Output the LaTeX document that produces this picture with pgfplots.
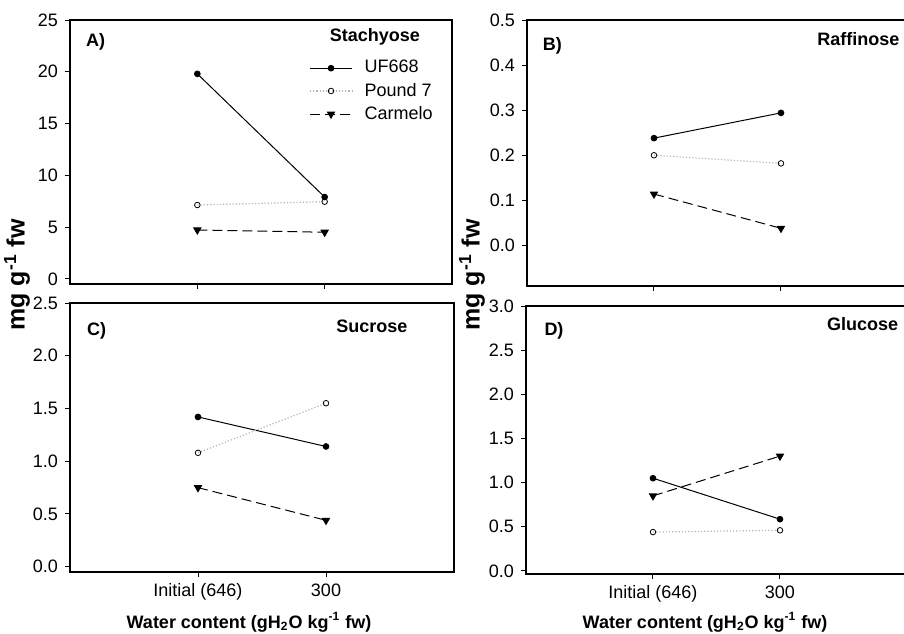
\documentclass[border=0pt]{standalone}
\usepackage{pgfplots}
\pgfplotsset{compat=1.18}
\usepackage{fontspec}
\setmainfont{Liberation Sans}
\definecolor{dotgray}{HTML}{B4B4B4}

\pgfplotsset{
  panel/.style={
    scale only axis, anchor=south west,
    xmin=-1, xmax=2, xtick={0,1},
    tick pos=left, tick align=outside,
    major tick length=2.5pt,
    axis line style={line width=0.6pt},
    every tick/.style={black, line width=0.5pt},
    tick label style={font=\fontsize{9}{10}\selectfont},
    /pgf/number format/assume math mode=true,
    clip=false,
  },
  uf/.style={black, line width=0.5pt, mark=*, mark size=1.4pt, mark options={solid, fill=black}},
  pd/.style={dotgray, densely dotted, line width=0.6pt, mark=o, mark size=1.4pt, mark options={solid, draw=black, fill=white, line width=0.4pt}},
  cm/.style={black, dashed, dash pattern=on 5pt off 2.5pt, line width=0.5pt, mark=triangle*, mark size=2pt, mark options={solid, fill=black, rotate=180}},
}
\tikzset{lab/.style={font=\bfseries\fontsize{9}{10}\selectfont}}

\begin{document}
\begin{tikzpicture}

% A) Stachyose
\begin{axis}[panel, at={(35pt,-142pt)}, width=191pt, height=132pt,
  ymin=-0.5, ymax=25, ytick={0,5,10,15,20,25}, xticklabels={},
  legend style={draw=none, fill=none, at={(0.61,0.875)}, anchor=north west,
    font=\fontsize{9}{10}\selectfont, row sep=0.5pt,
    nodes={inner sep=1.5pt},
    /tikz/every odd column/.append style={column sep=4.5pt}},
  legend cell align=left,
  legend image code/.code={\draw[mark repeat=2, mark phase=2, #1] plot coordinates {(0pt,0pt) (10.5pt,0pt) (21pt,0pt)};},
]
\addplot[uf] coordinates {(0,19.8) (1,7.9)};
\addplot[pd] coordinates {(0,7.13) (1,7.45)};
\addplot[cm] coordinates {(0,4.72) (1,4.5)};
\legend{UF668, Pound 7, Carmelo}
\node[lab, anchor=west] at (rel axis cs:0.024,0.917) {A)};
\node[lab] at (rel axis cs:0.798,0.9375) {Stachyose};
\end{axis}

% B) Raffinose
\begin{axis}[panel, at={(263.5pt,-143pt)}, width=200pt, height=133pt, xmax=2.15,
  ymin=-0.09, ymax=0.5, ytick={0,0.1,0.2,0.3,0.4,0.5}, xticklabels={},
  yticklabel style={/pgf/number format/.cd, fixed, fixed zerofill, precision=1},
]
\addplot[uf] coordinates {(0,0.238) (1,0.294)};
\addplot[pd] coordinates {(0,0.200) (1,0.182)};
\addplot[cm] coordinates {(0,0.114) (1,0.038)};
\node[lab, anchor=west] at (axis cs:-0.93,0.4423) {B)};
\node[lab] at (axis cs:1.61,0.457) {Raffinose};
\end{axis}

% C) Sucrose
\begin{axis}[panel, at={(35pt,-286pt)}, width=192pt, height=134.5pt,
  ymin=-0.05, ymax=2.5, ytick={0,0.5,1,1.5,2,2.5},
  yticklabel style={/pgf/number format/.cd, fixed, fixed zerofill, precision=1},
  xticklabels={Initial (646), 300},
  xticklabel style={text height=6.5pt, text depth=2pt, yshift=0.5pt},
]
\addplot[uf] coordinates {(0,1.42) (1,1.14)};
\addplot[pd] coordinates {(0,1.08) (1,1.55)};
\addplot[cm] coordinates {(0,0.75) (1,0.44)};
\node[lab, anchor=west] at (rel axis cs:0.026,0.896) {C)};
\node[lab] at (rel axis cs:0.786,0.913) {Sucrose};
\end{axis}

% D) Glucose
\begin{axis}[panel, at={(263pt,-287pt)}, width=200pt, height=134pt, xmax=2.15,
  ymin=-0.035, ymax=3.0, ytick={0,0.5,1,1.5,2,2.5,3},
  yticklabel style={/pgf/number format/.cd, fixed, fixed zerofill, precision=1},
  xticklabels={Initial (646), 300},
  xticklabel style={text height=6.5pt, text depth=2pt, yshift=0.5pt},
]
\addplot[uf] coordinates {(0,1.05) (1,0.586)};
\addplot[pd] coordinates {(0,0.44) (1,0.46)};
\addplot[cm] coordinates {(0,0.85) (1,1.30)};
\node[lab, anchor=west] at (axis cs:-0.91,2.72) {D)};
\node[lab] at (axis cs:1.65,2.80) {Glucose};
\end{axis}

% shared labels
\node[rotate=90, font=\bfseries\fontsize{12.5}{14}\selectfont] at (8.5pt,-137.5pt) {mg g\textsuperscript{-1} fw};
\node[rotate=90, font=\bfseries\fontsize{12.5}{14}\selectfont] at (236pt,-137.5pt) {mg g\textsuperscript{-1} fw};
\node[font=\bfseries\fontsize{9}{10}\selectfont] at (124.5pt,-311pt) {Water content (gH\textsubscript{2}O kg\textsuperscript{-1} fw)};
\node[font=\bfseries\fontsize{9}{10}\selectfont] at (352.5pt,-311pt) {Water content (gH\textsubscript{2}O kg\textsuperscript{-1} fw)};

\pgfresetboundingbox
\path (0pt,0pt) rectangle (452pt,-316.5pt);
\end{tikzpicture}
\end{document}
